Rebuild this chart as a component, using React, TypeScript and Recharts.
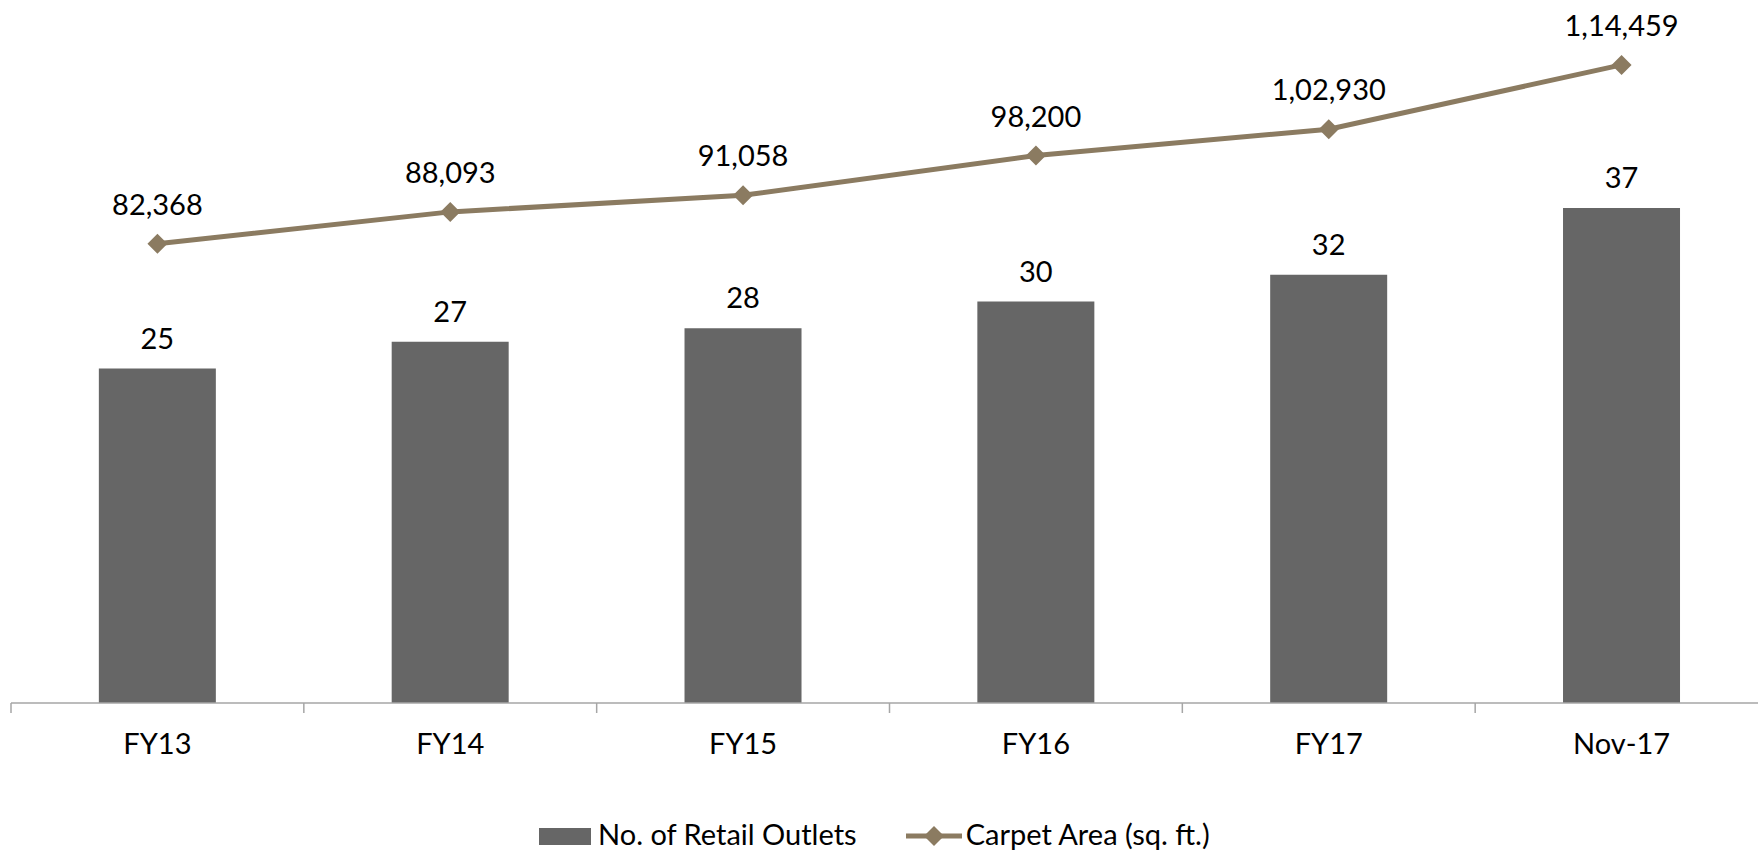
import React from "react";
import {
  ComposedChart,
  Bar,
  Line,
  XAxis,
  YAxis,
  Legend,
  LabelList,
} from "recharts";

const categories = ["FY13", "FY14", "FY15", "FY16", "FY17", "Nov-17"];
const outlets = [25, 27, 28, 30, 32, 37];
const carpetArea = [82368, 88093, 91058, 98200, 102930, 114459];

const data = categories.map((c, i) => ({
  name: c,
  outlets: outlets[i],
  area: carpetArea[i],
}));

const FONT = "Lato, 'Open Sans', sans-serif";
const BAR_COLOR = "#666666";
const LINE_COLOR = "#8B7B61";
const AXIS_COLOR = "#a6a6a6";

const indian = (v: number) => {
  const s = String(Math.round(v));
  if (s.length <= 3) return s;
  const last3 = s.slice(-3);
  let rest = s.slice(0, -3);
  const parts: string[] = [];
  while (rest.length > 2) {
    parts.unshift(rest.slice(-2));
    rest = rest.slice(0, -2);
  }
  if (rest.length) parts.unshift(rest);
  return parts.join(",") + "," + last3;
};

const Diamond = (props: any) => {
  const { cx, cy } = props;
  if (cx == null || cy == null) return null;
  const r = 10;
  return (
    <polygon
      points={`${cx},${cy - r} ${cx + r},${cy} ${cx},${cy + r} ${cx - r},${cy}`}
      fill={LINE_COLOR}
    />
  );
};

const TICK_SIZE = 10;
const TICK_MARGIN = 20;

const CustomTick = (props: any) => {
  const { x, y, payload } = props;
  const off = payload && payload.offset ? payload.offset : 0;
  const axisY = y - TICK_SIZE - TICK_MARGIN;
  return (
    <g>
      <line
        x1={x - off}
        x2={x - off}
        y1={axisY}
        y2={axisY + TICK_SIZE}
        stroke={AXIS_COLOR}
        strokeWidth={1.5}
      />
      <text
        x={x}
        y={y}
        dy="0.72em"
        textAnchor="middle"
        fill="#000"
        fontFamily={FONT}
        fontSize={29}
      >
        {payload.value}
      </text>
    </g>
  );
};

const LegendContent = () => (
  <div
    style={{
      height: 46,
      boxSizing: "border-box",
      paddingTop: 8,
      display: "flex",
      alignItems: "flex-start",
      paddingLeft: 528,
      fontFamily: FONT,
      fontSize: 29,
      lineHeight: "36px",
      color: "#000",
      whiteSpace: "nowrap",
    }}
  >
    <div style={{ width: 52, height: 17, marginTop: 12, background: BAR_COLOR }} />
    <span style={{ marginLeft: 7 }}>No. of Retail Outlets</span>
    <svg width={56} height={22} style={{ marginLeft: 49, marginTop: 9 }}>
      <line x1={0} x2={56} y1={11} y2={11} stroke={LINE_COLOR} strokeWidth={5} />
      <polygon points="28,1 38,11 28,21 18,11" fill={LINE_COLOR} />
    </svg>
    <span style={{ marginLeft: 4 }}>Carpet Area (sq. ft.)</span>
  </div>
);

export default function App() {
  return (
    <div
      style={{
        position: "absolute",
        left: 0,
        top: 0,
        width: 1758,
        height: 854,
        overflow: "hidden",
        background: "#fff",
      }}
    >
      <ComposedChart
        width={1770}
        height={854}
        data={data}
        margin={{ top: 34, right: 2, bottom: 0, left: 11 }}
        barCategoryGap="30%"
      >
        <XAxis
          dataKey="name"
          xAxisId="x"
          height={105}
          tickSize={TICK_SIZE}
          tickMargin={TICK_MARGIN}
          tickLine={false}
          axisLine={{ stroke: AXIS_COLOR, strokeWidth: 1.5 }}
          tick={<CustomTick />}
          interval={0}
        />
        <YAxis yAxisId="left" domain={[0, 50]} hide />
        <YAxis yAxisId="right" orientation="right" domain={[0, 120000]} hide />
        <Legend verticalAlign="bottom" content={<LegendContent />} />
        <Bar
          dataKey="outlets"
          name="No. of Retail Outlets"
          xAxisId="x"
          yAxisId="left"
          fill={BAR_COLOR}
          isAnimationActive={false}
        >
          <LabelList
            dataKey="outlets"
            position="top"
            offset={20}
            fill="#000"
            fontFamily={FONT}
            fontSize={29}
          />
        </Bar>
        <Line
          dataKey="area"
          name="Carpet Area (sq. ft.)"
          xAxisId="x"
          yAxisId="right"
          stroke={LINE_COLOR}
          strokeWidth={5}
          dot={<Diamond />}
          activeDot={false}
          isAnimationActive={false}
        >
          <LabelList
            dataKey="area"
            position="top"
            offset={29}
            fill="#000"
            fontFamily={FONT}
            fontSize={29}
            formatter={(v: any) => indian(Number(v))}
          />
        </Line>
      </ComposedChart>
    </div>
  );
}
